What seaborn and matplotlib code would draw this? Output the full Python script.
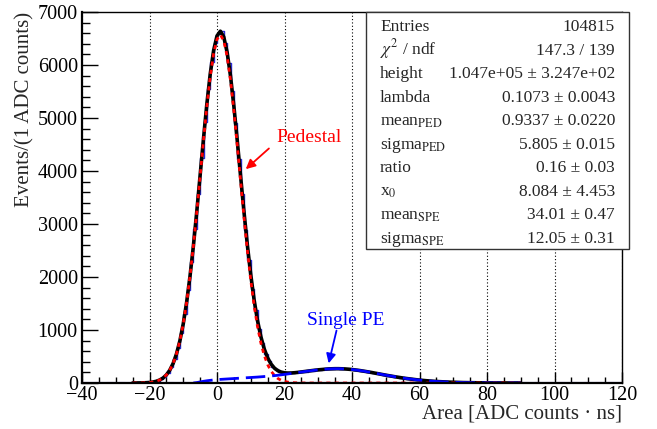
import numpy as np
import pandas as pd
import matplotlib
matplotlib.use("Agg")
import matplotlib.pyplot as plt
import seaborn as sns
from matplotlib.patches import Rectangle

# ---------------- data ----------------
bin_edges = np.arange(-40, 121, 1)          # 1 ADC-count bins, -40 .. 120

hist_low_zero = [0] * 17                    # bins -40 .. -24
hist_core = [                               # bins -23 .. 85
    2, 4, 7, 14, 23, 43, 70, 121, 189, 300,
    448, 664, 940, 1306, 1749, 2290, 2900, 3570, 4250, 4930,
    5540, 6060, 6420, 6580, 6650, 6410, 6030, 5510, 4910, 4230,
    3570, 2890, 2320, 1780, 1370, 1010, 755, 545, 415, 308,
    258, 212, 198, 186, 190, 186, 199, 206, 214, 216,
    233, 235, 248, 247, 262, 258, 270, 266, 275, 268,
    262, 265, 255, 246, 245, 230, 226, 210, 204, 186,
    181, 163, 156, 140, 133, 118, 112, 97, 92, 80,
    76, 64, 60, 50, 47, 41, 34, 32, 26, 24,
    20, 18, 14, 13, 10, 9, 8, 6, 5, 4,
    3, 3, 2, 2, 2, 1, 1, 1, 1,
]
hist_high_zero = [0] * 34                   # bins 86 .. 119
hist_counts = hist_low_zero + hist_core + hist_high_zero

curve_x = np.arange(-25, 91, 1)             # curve sample points
pedestal_vals = [                           # x = -25 .. 26
    0.3, 0.65, 1.3, 2.7, 5.2, 9.9, 18, 32, 56, 93,
    152, 241, 369, 550, 795, 1116, 1521, 2013, 2584, 3222,
    3899, 4581, 5225, 5784, 6217, 6486, 6570, 6459, 6165, 5713,
    5138, 4487, 3803, 3129, 2500, 1939, 1459, 1066, 756, 521,
    348, 226, 143, 87, 52, 30, 17, 9, 4.8, 2.4,
    1.2, 0.6,
] + [0.0] * 64                              # x = 27 .. 90
spe_vals = [0.0] * 18 + [                   # x = -25 .. -8 are zero; x = -7 .. 85
    0, 8, 20, 32, 42, 50, 57, 63, 68, 72,
    76, 80, 84, 88, 92, 96, 100, 104, 108, 112,
    117, 122, 127, 133, 139, 146, 154, 162, 171, 180,
    189, 198, 207, 216, 225, 233, 241, 248, 254, 260,
    265, 268, 270, 270, 268, 265, 260, 254, 246, 238,
    228, 218, 207, 196, 184, 172, 160, 148, 137, 126,
    115, 105, 95, 86, 78, 70, 62, 55, 49, 43,
    38, 33, 29, 25, 22, 19, 16, 14, 12, 10,
    8, 7, 6, 5, 4, 3, 3, 2, 2, 1,
    1, 1, 1,
] + [0.0] * 5                               # x = 86 .. 90

stat_labels = ["Entries", r"$\chi^{2}$ / ndf", "height", "lambda",
               r"mean$_{\rm PED}$", r"sigma$_{\rm PED}$", "ratio", r"x$_{0}$",
               r"mean$_{\rm SPE}$", r"sigma$_{\rm SPE}$"]
stat_values = ["104815", "147.3 / 139", "1.047e+05 ± 3.247e+02",
               "0.1073 ± 0.0043", "0.9337 ± 0.0220", "5.805 ± 0.015",
               "0.16 ± 0.03", "8.084 ± 4.453", "34.01 ± 0.47", "12.05 ± 0.31"]

# ---------------- style ----------------
sns.set_theme(style="ticks")
plt.rcParams["font.family"] = ["Liberation Serif", "DejaVu Serif"]
plt.rcParams["mathtext.fontset"] = "stix"
plt.rcParams["axes.unicode_minus"] = True

fig = plt.figure(figsize=(6.57, 4.29), dpi=100)
ax = fig.add_axes([82 / 657, 1 - 383 / 429, 540 / 657, 371 / 429])

hist_df = pd.DataFrame({"center": bin_edges[:-1] + 0.5,
                        "count": np.array(hist_counts, dtype=float)})
curve_df = pd.DataFrame({"x": curve_x,
                         "ped": np.array(pedestal_vals, dtype=float),
                         "spe": np.array(spe_vals, dtype=float)})
curve_df["total"] = curve_df["ped"] + curve_df["spe"]
spe_df = curve_df[curve_df["x"] >= -7]

# baseline components at zero
ax.axhline(0, color="blue", lw=2.2, zorder=2)
ax.axhline(0, color="#cc33cc", lw=2.2, ls=(0, (2, 2)), zorder=2.1)

sns.histplot(data=hist_df, x="center", weights="count", bins=list(bin_edges),
             element="step", fill=False, color="#2b2bd6", linewidth=1.0, ax=ax)
sns.lineplot(data=curve_df, x="x", y="total", color="black", linewidth=2.6,
             ax=ax)
sns.lineplot(data=curve_df, x="x", y="ped", color="red", linewidth=2.0,
             linestyle=(0, (1.5, 1.5)), ax=ax)
sns.lineplot(data=spe_df, x="x", y="spe", color="blue", linewidth=2.0,
             linestyle=(0, (7, 2.5)), ax=ax)

ax.set_xlim(-40, 120)
ax.set_ylim(0, 7000)
ax.set_xticks(np.arange(-40, 121, 20))
ax.set_xticks(np.arange(-40, 121, 5), minor=True)
ax.set_yticks(np.arange(0, 7001, 1000))
ax.set_yticks(np.arange(0, 7001, 200), minor=True)
ax.grid(axis="x", which="major", color="black", linestyle=(0, (1, 2)), lw=0.8)
ax.grid(axis="y", visible=False)

ax.tick_params(axis="both", which="both", direction="in", labelsize=14.5,
               colors="black", top=False, right=False)
ax.tick_params(axis="y", which="major", length=11.5, width=1.0, pad=3)
ax.tick_params(axis="y", which="minor", length=5.8, width=1.0)
ax.tick_params(axis="x", which="major", length=8, width=1.0, pad=2)
ax.tick_params(axis="x", which="minor", length=4, width=1.0)
for s in ax.spines.values():
    s.set_color("black")
    s.set_linewidth(1.0)
ax.spines["left"].set_linewidth(1.6)
ax.spines["bottom"].set_linewidth(1.6)

ax.set_xlabel("Area [ADC counts · ns]", fontsize=15, loc="right")
ax.xaxis.set_label_coords(1.0, -0.058)
ax.set_ylabel("Events/(1 ADC counts)", fontsize=15, loc="top")
ax.yaxis.set_label_coords(-0.088, 1.0)

# annotations
ax.annotate("", xy=(7.9, 4000), xytext=(16.0, 4460),
            arrowprops=dict(arrowstyle="-|>", color="red", lw=1.3,
                            mutation_scale=14), zorder=6)
ax.text(17.6, 4640, "Pedestal", color="red", fontsize=14, va="center",
        ha="left", zorder=6)
ax.annotate("", xy=(32.9, 320), xytext=(35.6, 1040),
            arrowprops=dict(arrowstyle="-|>", color="blue", lw=1.3,
                            mutation_scale=14), zorder=6)
ax.text(26.8, 1170, "Single PE", color="blue", fontsize=14, va="center",
        ha="left", zorder=6)

# stats box
box = Rectangle((0.526, 0.361), 1.013 - 0.526, 1.0 - 0.361,
                transform=ax.transAxes, facecolor="white", edgecolor="#333333",
                lw=1.0, zorder=10, clip_on=False)
ax.add_patch(box)
for i, (lab, val) in enumerate(zip(stat_labels, stat_values)):
    yb = (383 - 31 - 23.55 * i) / 371
    ax.text(0.552, yb, lab, transform=ax.transAxes, fontsize=12.5,
            ha="left", va="baseline", zorder=11, clip_on=False)
    ax.text(0.987, yb, val, transform=ax.transAxes, fontsize=12.5,
            ha="right", va="baseline", zorder=11, clip_on=False)

fig.savefig("out.png", dpi=100)
